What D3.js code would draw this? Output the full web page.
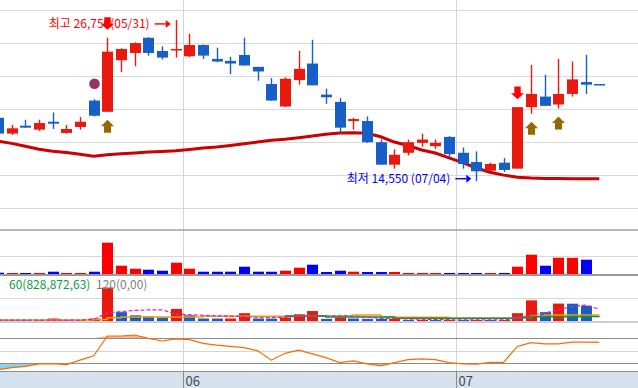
<!DOCTYPE html>
<html>
<head>
<meta charset="utf-8">
<script src="https://cdn.jsdelivr.net/npm/d3@7"></script>
<style>
body { margin: 0; background: #fff; }
svg { display: block; font-family: "Noto Sans CJK KR", "Noto Sans", sans-serif; }
</style>
</head>
<body>
<svg id="svg" width="638" height="388"></svg>
<script>
// candle index runs from -1 (cut off at the left edge) to 43
const idx = d3.range(-1, 44);

const open  = [19350,18150,18750,18450,19050,18200,18650,20650,19800,23700,24250,25400,24400,24450,24000,24850,23800,23650,24100,23200,
               21900,20200,22200,23450,21100,20550,19100,19100,17500,15800,16700,17450,17200,17900,16700,16000,15350,15950,15500,20150,
               20950,20350,21150,22050,21900];
const high  = [19400,18800,19200,19200,19750,18800,19400,20750,25400,24600,25050,25450,24750,26750,25700,24900,24650,23950,25400,23200,
               22350,22400,24400,25250,21550,20850,19350,19450,17700,16950,17700,18150,17700,17950,17100,16800,15950,16300,20150,23350,
               22600,23800,23600,24100,21900];
const low   = [18100,18050,18600,18350,18500,18150,18450,19450,19800,22800,23250,24050,23750,23900,23950,23800,23550,22650,23300,22150,
               20650,20150,21850,21800,20400,18150,18450,17450,15800,15500,16500,17150,17000,16400,15500,14550,15300,15250,15500,19650,
               20250,20050,20950,21150,21850];
const close = [18150,18550,18600,18950,18900,18500,19050,19500,24350,24550,25000,24250,23900,24550,24850,24050,23600,23450,23300,22850,
               20650,22300,23050,21800,20900,18600,19250,17500,15800,16550,17500,17700,17450,16600,15850,15300,15850,15400,20150,21150,
               20250,21150,22250,21850,21850];
const ma    = [17570,17410,17190,16970,16820,16720,16590,16440,16550,16630,16680,16750,16800,16850,16950,17060,17130,17250,17380,17510,
               17650,17720,17840,17970,18100,18190,18220,18180,17910,17510,17250,16910,16680,16320,15950,15550,15230,15010,14850,14790,
               14760,14760,14740,14740,14740];
const volume = [257000,198000,190000,200000,455000,195000,198000,455000,6197000,1643000,1049000,851000,653000,2237000,1049000,455000,450000,460000,1445000,460000,
                450000,653000,1247000,1841000,396000,653000,455000,396000,390000,400000,198000,205000,200000,210000,190000,200000,195000,205000,1445000,3821000,
                1643000,3227000,3200000,2831000,0];
const volMa5  = [180,180,180,180,180,180,180,300,1500,1740,1950,2050,2080,1290,1170,1050,950,940,820,650,
                 650,690,850,930,920,960,920,750,460,460,370,320,270,240,200,200,200,200,450,1170,
                 1460,2070,2670,2950,2180];
const volMa20 = [185,185,185,185,185,185,185,280,610,740,740,740,740,740,740,870,870,870,870,870,
                 870,925,925,925,925,925,1110,1110,800,680,680,680,680,500,500,500,500,500,650,925,
                 1110,1110,1110,1110,1110];
const volMa60 = [null,null,null,null,null,null,null,null,null,null,null,null,null,null,null,null,null,null,null,null,
                 null,900,900,900,740,740,740,740,740,500,500,500,500,500,500,500,500,500,600,800,
                 800,800,810,820,829];
const indicator = [20,23,25,29,29.5,28,35,42,73.7,73.7,75.3,70,65.7,69,68,62,59,57,55,50,
                   35,46,51,45,39,31,34,29,26,31,36,37,36,31,29,28.5,31.6,31.6,57,63,
                   61,61,64,64,63.6];

const monthLabels = ['06', '07'];
const monthStart = [13, 33];
const sellIdx = [7, 37];
const buyIdx = [7, 38, 40];
const dotIdx = [6];
const hiIdx = 12, hiText = '최고 26,750(05/31)';
const loIdx = 34, loText = '최저 14,550 (07/04)';
const priceGrid = d3.range(12500, 27501, 2500);
const indLevels = [30, 50, 70];

const upColor = '#e8190e', downColor = '#165fc8';

const candles = idx.map((d, i) => ({
    i: d, o: open[i], h: high[i], l: low[i], c: close[i], ma: ma[i],
    v: volume[i], pv: i > 0 ? volume[i - 1] : volume[i],
    m5: volMa5[i] * 1000, m20: volMa20[i] * 1000,
    m60: volMa60[i] == null ? null : volMa60[i] * 1000, ind: indicator[i]
}));

const svg = d3.select('#svg');
const W = 638;

const xScale = d3.scaleLinear().domain([0, 43]).range([11.7, 599.3]);
const yPrice = d3.scaleLinear().domain([12500, 27500]).range([208.3, 10]);
const yVol = d3.scaleLinear().domain([0, 6200000]).range([274, 242.7]);
const yVol2 = d3.scaleLinear().domain([0, 6200000]).range([321, 287.5]);
const yInd = d3.scaleLinear().domain([30, 70]).range([363.3, 338.3]);
const bw = 11;

const defs = svg.append('defs');
defs.append('clipPath').attr('id', 'cMain').append('rect').attr('x', 0).attr('y', 0).attr('width', W).attr('height', 229);
defs.append('clipPath').attr('id', 'cVol').append('rect').attr('x', 0).attr('y', 231).attr('width', W).attr('height', 43.5);
defs.append('clipPath').attr('id', 'cVol2').append('rect').attr('x', 0).attr('y', 276).attr('width', W).attr('height', 45.5);
defs.append('clipPath').attr('id', 'cInd').append('rect').attr('x', 0).attr('y', 322.5).attr('width', W).attr('height', 49);

// x axis band
svg.append('rect').attr('x', 0).attr('y', 372).attr('width', W).attr('height', 16).attr('fill', '#d6e1ee');

// horizontal grids
svg.append('g').selectAll('line').data(priceGrid).enter().append('line')
    .attr('x1', 0).attr('x2', W)
    .attr('y1', d => Math.round(yPrice(d)) + 0.5).attr('y2', d => Math.round(yPrice(d)) + 0.5)
    .attr('stroke', '#d9d9d9');
svg.append('line').attr('x1', 0).attr('x2', W).attr('y1', Math.round(yVol(3500000)) + 0.5).attr('y2', Math.round(yVol(3500000)) + 0.5).attr('stroke', '#d9d9d9');
svg.append('line').attr('x1', 0).attr('x2', W).attr('y1', Math.round(yVol2(4200000)) + 0.5).attr('y2', Math.round(yVol2(4200000)) + 0.5).attr('stroke', '#d9d9d9');
svg.append('g').selectAll('line').data(indLevels).enter().append('line')
    .attr('x1', 0).attr('x2', W)
    .attr('y1', d => Math.round(yInd(d)) + 0.5).attr('y2', d => Math.round(yInd(d)) + 0.5)
    .attr('stroke', d => d === 50 ? '#d4d4d4' : '#8c8c8c');

// month separators
svg.append('g').selectAll('line').data(monthStart).enter().append('line')
    .attr('x1', d => Math.round(xScale(d - 0.5)) + 0.5).attr('x2', d => Math.round(xScale(d - 0.5)) + 0.5)
    .attr('y1', 0).attr('y2', 372).attr('stroke', '#d4d4d4');
svg.append('g').selectAll('line').data(monthStart).enter().append('line')
    .attr('x1', d => Math.round(xScale(d - 0.5)) + 0.5).attr('x2', d => Math.round(xScale(d - 0.5)) + 0.5)
    .attr('y1', 372).attr('y2', 388).attr('stroke', '#8c8c8c');
svg.append('g').selectAll('text').data(monthStart).enter().append('text')
    .attr('x', d => Math.round(xScale(d - 0.5)) + 2.5).attr('y', 385.5)
    .attr('font-size', 13).attr('fill', '#4a4a4a')
    .text((d, i) => monthLabels[i]);

// panel separators
[[230, 1.5, '#a0a0a0'], [275, 2, '#9a9a9a'], [322, 1, '#a0a0a0'], [371.5, 1, '#909090']].forEach(s => {
    svg.append('line').attr('x1', 0).attr('x2', W).attr('y1', s[0]).attr('y2', s[0])
        .attr('stroke', s[2]).attr('stroke-width', s[1]);
});

// price panel
const main = svg.append('g').attr('clip-path', 'url(#cMain)');
main.append('path').datum(candles)
    .attr('fill', 'none').attr('stroke', '#cc0000').attr('stroke-width', 3)
    .attr('d', d3.line().x(d => xScale(d.i)).y(d => yPrice(d.ma)));

const cg = main.selectAll('.candle').data(candles).enter().append('g').attr('class', 'candle');
cg.append('line')
    .attr('x1', d => Math.round(xScale(d.i)) + 0.5).attr('x2', d => Math.round(xScale(d.i)) + 0.5)
    .attr('y1', d => yPrice(d.h)).attr('y2', d => yPrice(d.l))
    .attr('stroke', d => d.c >= d.o ? upColor : downColor).attr('stroke-width', 1.4);
cg.append('rect')
    .attr('x', d => Math.round(xScale(d.i)) + 0.5 - bw / 2)
    .attr('width', bw)
    .attr('y', d => yPrice(Math.max(d.o, d.c)))
    .attr('height', d => Math.max(1.5, Math.abs(yPrice(d.o) - yPrice(d.c))))
    .attr('fill', d => d.c >= d.o ? upColor : downColor);

// signals
const byIdx = i => candles.find(d => d.i === i);
main.selectAll('.sell').data(sellIdx).enter().append('path')
    .attr('fill', '#ff0000')
    .attr('d', i => {
        const cx = Math.round(xScale(i)) + 0.5, t = yPrice(byIdx(i).h) - 8;
        return `M${cx - 3.2},${t - 12.6}h6.4v6.6h3.3L${cx},${t}L${cx - 6.5},${t - 6}h3.3Z`;
    });
main.selectAll('.buy').data(buyIdx).enter().append('path')
    .attr('fill', '#996600')
    .attr('d', i => {
        const cx = Math.round(xScale(i)) + 0.5, t = yPrice(byIdx(i).l) + 8;
        return `M${cx},${t}L${cx + 6.5},${t + 6.5}h-3v6.5h-7v-6.5h-3Z`;
    });
main.selectAll('.dot').data(dotIdx).enter().append('circle')
    .attr('cx', i => Math.round(xScale(i)) + 0.5)
    .attr('cy', i => yPrice(byIdx(i).h) - 15.5)
    .attr('r', 5.3).attr('fill', '#993366');

// high / low labels
function label(i, value, dy, text, color) {
    const cx = xScale(i), y = yPrice(value) + dy;
    main.append('line').attr('x1', cx - 21).attr('x2', cx - 10).attr('y1', y).attr('y2', y)
        .attr('stroke', color).attr('stroke-width', 1.4);
    main.append('path').attr('fill', color)
        .attr('d', `M${cx - 10},${y - 4}L${cx - 5},${y}L${cx - 10},${y + 4}Z`);
    main.append('text').attr('x', cx - 26).attr('y', y + 4.5)
        .attr('text-anchor', 'end').attr('font-size', 12).attr('fill', color)
        .text(text);
}
label(hiIdx, high[hiIdx + 1], 4, hiText, '#ff0000');
main.selectAll('.sell').raise();
label(loIdx, low[loIdx + 1], -2.5, loText, '#0000ff');

// volume panel
svg.append('g').attr('clip-path', 'url(#cVol)')
    .selectAll('rect').data(candles.filter(d => d.v > 0)).enter().append('rect')
    .attr('x', d => Math.round(xScale(d.i)) + 0.5 - bw / 2).attr('width', bw)
    .attr('y', d => Math.min(yVol(d.v), 273))
    .attr('height', d => Math.max(1, yVol(0) - yVol(d.v)))
    .attr('fill', d => d.c >= d.o ? '#ff0000' : '#0000ff');

// volume moving-average panel
const p3 = svg.append('g').attr('clip-path', 'url(#cVol2)');
p3.selectAll('rect').data(candles.filter(d => d.v > 0)).enter().append('rect')
    .attr('x', d => Math.round(xScale(d.i)) + 0.5 - bw / 2).attr('width', bw)
    .attr('y', d => Math.min(yVol2(d.v), 320))
    .attr('height', d => Math.max(1, yVol2(0) - yVol2(d.v)))
    .attr('fill', d => d.v >= d.pv ? upColor : downColor);
p3.append('path').datum(candles).attr('fill', 'none').attr('stroke', '#f0a000').attr('stroke-width', 1.6)
    .attr('d', d3.line().x(d => xScale(d.i)).y(d => yVol2(d.m20)).curve(d3.curveStepAfter));
p3.append('path').datum(candles).attr('fill', 'none').attr('stroke', '#109040').attr('stroke-width', 1.6)
    .attr('d', d3.line().defined(d => d.m60 != null).x(d => xScale(d.i)).y(d => yVol2(d.m60)).curve(d3.curveStepAfter));
p3.append('path').datum(candles).attr('fill', 'none').attr('stroke', '#e020c0').attr('stroke-width', 1.2)
    .attr('stroke-dasharray', '4,2')
    .attr('d', d3.line().x(d => xScale(d.i)).y(d => yVol2(d.m5)));
svg.append('text').attr('x', 9).attr('y', 288.5).attr('font-size', 12).attr('fill', '#139a3c').text('60(828,872,63)');
svg.append('text').attr('x', 96).attr('y', 288.5).attr('font-size', 12).attr('fill', '#808080').text('120(0,00)');

// indicator panel
const p4 = svg.append('g').attr('clip-path', 'url(#cInd)');
p4.append('path').datum(candles).attr('fill', '#8fd0ea')
    .attr('d', d3.area().x(d => xScale(d.i)).y0(yInd(30)).y1(d => yInd(Math.min(d.ind, 30))));
p4.append('path').datum(candles).attr('fill', '#f6b58c')
    .attr('d', d3.area().x(d => xScale(d.i)).y0(yInd(70)).y1(d => yInd(Math.max(d.ind, 70))));
p4.selectAll('.lvl').data([30, 70]).enter().append('line')
    .attr('x1', 0).attr('x2', W)
    .attr('y1', d => Math.round(yInd(d)) + 0.5).attr('y2', d => Math.round(yInd(d)) + 0.5)
    .attr('stroke', '#8c8c8c');
p4.append('path').datum(candles).attr('fill', 'none').attr('stroke', '#ff6a00').attr('stroke-width', 1.2)
    .attr('d', d3.line().x(d => xScale(d.i)).y(d => yInd(d.ind)));
</script>
</body>
</html>
